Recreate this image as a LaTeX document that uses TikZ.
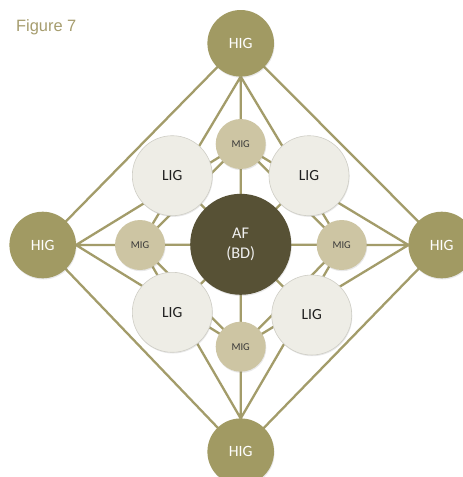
\documentclass[tikz,border=0pt]{standalone}
\usepackage{fontspec}
\setmainfont{Carlito}
\newfontfamily\figfont{Liberation Sans}
\usetikzlibrary{shadows,backgrounds}
\definecolor{higc}{HTML}{A19A63}
\definecolor{afc}{HTML}{575135}
\definecolor{migc}{HTML}{CDC5A3}
\definecolor{ligc}{HTML}{EEEDE6}
\definecolor{ligborder}{HTML}{CFCEC6}
\definecolor{linec}{HTML}{A39C6A}
\definecolor{figc}{HTML}{A69D6E}
\begin{document}
\begin{tikzpicture}[x=1pt,y=-1pt,
  base/.style={circle,inner sep=0pt,outer sep=0pt,align=center,
    drop shadow={opacity=0.18,shadow xshift=0.6pt,shadow yshift=-1.2pt}},
  hig/.style={base,fill=higc,minimum size=66.6pt,text=white,font=\fontsize{15.7}{18}\selectfont},
  af/.style={base,fill=afc,minimum size=101pt,text=white!94!black,font=\fontsize{16.3}{20.7}\selectfont},
  mig/.style={base,fill=migc,minimum size=50pt,text=black!78,font=\fontsize{10.5}{12}\selectfont},
  lig/.style={base,fill=ligc,draw=ligborder,line width=0.6pt,minimum size=80pt,text=black!88,font=\fontsize{15.5}{18}\selectfont},
  conn/.style={draw=linec,line width=2.3pt}]
\useasboundingbox (0,0) rectangle (463,477);
% circles
\node[hig] (HT) at (240.7,43.3) {HIG};
\node[hig] (HL) at (42.7,245) {HIG};
\node[hig] (HR) at (441.7,245) {HIG};
\node[hig] (HB) at (240.7,451.7) {HIG};
\node[lig] (LTL) at (172.3,175.7) {LIG};
\node[lig] (LTR) at (309,175.7) {LIG};
\node[lig] (LBL) at (172.3,312.3) {LIG};
\node[lig] (LBR) at (311.7,315) {LIG};
\node[mig] (MT) at (240.7,144) {MIG};
\node[mig] (ML) at (140,245) {MIG};
\node[mig] (MR) at (341.7,245) {MIG};
\node[mig] (MB) at (240.7,346.7) {MIG};
\node[af] (AF) at (240.7,244.3) {AF\\(BD)};
\node[anchor=base west,inner sep=0pt,text=figc,font=\figfont\fontsize{16.4}{18}\selectfont] (fig) at (16,31.7) {Figure 7};
\begin{scope}[on background layer]
\fill[white] (0,0) rectangle (463,477);
% outer diamond
\draw[conn] (HT.center) -- (HL.center) (HT.center) -- (HR.center)
            (HB.center) -- (HL.center) (HB.center) -- (HR.center);
% fans from HIG
\draw[conn] (HT.south) -- (ML.center) (HT.south) -- (MT.center) (HT.south) -- (MR.center);
\draw[conn] (HL.east) -- (MT.center) (HL.east) -- (ML.center) (HL.east) -- (MB.center);
\draw[conn] (HR.west) -- (MT.center) (HR.west) -- (MR.center) (HR.west) -- (MB.center);
\draw[conn] (HB.north) -- (ML.center) (HB.north) -- (MB.center) (HB.north) -- (MR.center);
% inner MIG diamond
\draw[conn] (MT.center) -- (ML.center) -- (MB.center) -- (MR.center) -- cycle;
% AF spokes
\draw[conn] (AF.center) -- (MT.center) (AF.center) -- (ML.center)
            (AF.center) -- (MR.center) (AF.center) -- (MB.center);
\draw[conn] (AF.center) -- (LTL.center) (AF.center) -- (LTR.center)
            (AF.center) -- (LBL.center) (AF.center) -- (LBR.center);
\end{scope}
\end{tikzpicture}
\end{document}
